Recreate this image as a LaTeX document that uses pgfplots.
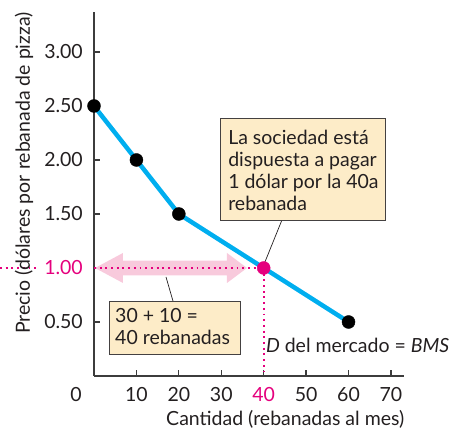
\documentclass[border=0pt]{standalone}
\usepackage{fontspec}
\setmainfont{Lato}
\usepackage{pgfplots}
\pgfplotsset{compat=1.18}
\definecolor{cblue}{RGB}{0,174,239}
\definecolor{cmag}{RGB}{229,0,125}
\definecolor{cpink}{RGB}{248,202,220}
\definecolor{cbox}{RGB}{253,236,200}
\definecolor{cax}{RGB}{60,60,60}
\definecolor{ctext}{RGB}{35,31,32}
\newcommand\fs{\fontsize{19.5pt}{21.7pt}\selectfont}
\begin{document}
\begin{tikzpicture}
\useasboundingbox (-94pt,-54pt) rectangle (358pt,376pt);
\begin{axis}[
  at={(0pt,0pt)}, anchor=south west,
  scale only axis, width=309.7pt, height=364pt,
  xmin=0, xmax=73, ymin=0, ymax=3.37,
  axis x line*=bottom, axis y line*=left,
  axis line style={cax, line width=1.3pt},
  tick style={cax, line width=1.3pt},
  major tick length=6pt, tick align=inside,
  xtick={10,20,30,40,50,60,70},
  xticklabels={10,20,30,\textcolor{cmag}{40},50,60,70},
  ytick={0.5,1,1.5,2,2.5,3},
  yticklabels={0.50,\textcolor{cmag}{1.00},1.50,2.00,2.50,3.00},
  ticklabel style={font=\fs, text=ctext},
  xticklabel style={anchor=base, yshift=-26pt, inner sep=0pt},
  yticklabel style={anchor=east, xshift=-11pt, inner sep=0pt},
  clip=false,
]
% pink double arrow
\fill[cpink] (axis cs:0.24,1) -- (axis cs:6.83,1.139) -- (axis cs:6.83,1.069) -- (axis cs:31.35,1.069) -- (axis cs:31.35,1.139) -- (axis cs:36.06,1) -- (axis cs:31.35,0.861) -- (axis cs:31.35,0.931) -- (axis cs:6.83,0.931) -- (axis cs:6.83,0.861) -- cycle;
% dotted guides
\draw[cmag, line width=1.9pt, dash pattern=on 1.9pt off 3.8pt] (axis cs:-22.15,1) -- (axis cs:-12.9,1);
\draw[cmag, line width=1.9pt, dash pattern=on 1.9pt off 3.8pt] (axis cs:0,1) -- (axis cs:40,1);
\draw[cmag, line width=1.9pt, dash pattern=on 1.9pt off 3.8pt] (axis cs:40,1) -- (axis cs:40,0);
% demand curve
\addplot[cblue, line width=4.5pt, mark=none] coordinates {(0,2.5)(10,2)(20,1.5)(40,1)(60,0.5)};
\addplot[only marks, mark=*, mark size=6.5pt, black] coordinates {(0,2.5)(10,2)(20,1.5)(60,0.5)};
\addplot[only marks, mark=*, mark size=6.5pt, cmag, mark options={fill=cmag, draw=cmag}] coordinates {(40,1)};
% connectors
\draw[ctext, line width=0.7pt] (axis cs:44.3,1.444) -- (axis cs:40.3,1.056);
\draw[ctext, line width=0.7pt] (axis cs:18.62,0.694) -- (axis cs:16.97,0.917);
% box 1
\draw[fill=cbox, draw=ctext!85, line width=0.8pt] (axis cs:29.9,1.444) rectangle (axis cs:68.6,2.389);
\node[anchor=base west, inner sep=0, font=\fs, text=ctext] at (axis cs:31.6,2.139) {La sociedad está};
\node[anchor=base west, inner sep=0, font=\fs, text=ctext] at (axis cs:31.6,1.938) {dispuesta a pagar};
\node[anchor=base west, inner sep=0, font=\fs, text=ctext] at (axis cs:31.6,1.737) {1 dólar por la 40a};
\node[anchor=base west, inner sep=0, font=\fs, text=ctext] at (axis cs:31.6,1.536) {rebanada};
% box 2
\draw[fill=cbox, draw=ctext!85, line width=0.8pt] (axis cs:3.535,0.204) rectangle (axis cs:34.4,0.694);
\node[anchor=base west, inner sep=0, font=\fs, text=ctext] at (axis cs:4.95,0.491) {30 + 10 =};
\node[anchor=base west, inner sep=0, font=\fs, text=ctext] at (axis cs:4.95,0.287) {40 rebanadas};
% curve label
\node[anchor=base west, inner sep=0, font=\fs, text=ctext] at (axis cs:40.5,0.222) {\textit{D} del mercado = \textit{BMS}};
% origin label and axis titles
\node[anchor=base, inner sep=0, font=\fs, text=ctext] at (axis cs:-4.24,-0.2407) {0};
\node[anchor=base east, inner sep=0, font=\fs, text=ctext] at (axis cs:73.2,-0.4537) {Cantidad (rebanadas al mes)};
\node[rotate=90, anchor=east, inner sep=0, font=\fs, text=ctext] at (axis cs:-16.5,3.37) {Precio (dólares por rebanada de pizza)};
\end{axis}
\end{tikzpicture}
\end{document}
